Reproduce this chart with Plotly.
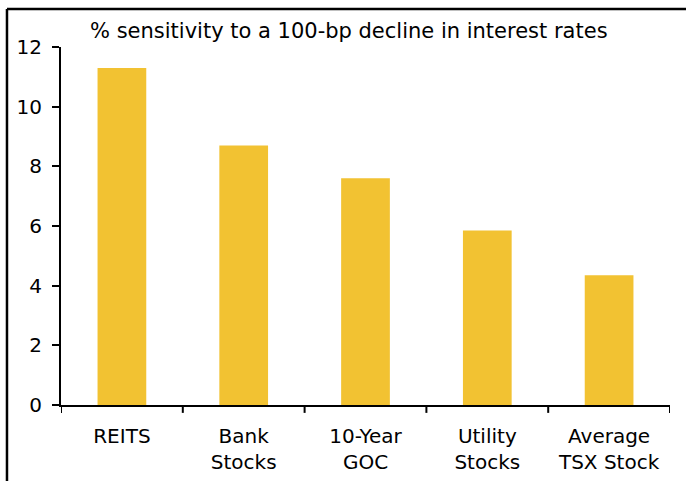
import plotly.graph_objects as go

categories = ["REITS", "Bank<br>Stocks", "10-Year<br>GOC", "Utility<br>Stocks", "Average<br>TSX Stock"]
sensitivity = [11.3, 8.7, 7.6, 5.85, 4.35]
y_ticks = [0, 2, 4, 6, 8, 10, 12]
title_text = "% sensitivity to a 100-bp decline in interest rates"

FONT = "DejaVu Sans, Verdana, sans-serif"
BAR_COLOR = "#F2C232"

fig = go.Figure()
fig.add_trace(go.Bar(
    x=list(range(len(categories))),
    y=sensitivity,
    width=0.4,
    marker=dict(color=BAR_COLOR, line=dict(width=0)),
))

fig.update_layout(
    width=686,
    height=481,
    margin=dict(l=61, r=16, t=47, b=76, autoexpand=False),
    paper_bgcolor="white",
    plot_bgcolor="white",
    showlegend=False,
    font=dict(family=FONT, size=20, color="#000000"),
    xaxis=dict(
        range=[-0.5, len(categories) - 0.5],
        tickmode="array",
        tickvals=list(range(len(categories))),
        ticktext=categories,
        ticks="",
        showline=True,
        linecolor="black",
        linewidth=2,
        showgrid=False,
        zeroline=False,
        fixedrange=True,
        automargin=False,
        ticklabelstandoff=12,
    ),
    yaxis=dict(
        range=[0, 12],
        tickmode="array",
        tickvals=y_ticks,
        ticks="outside",
        ticklen=7,
        tickwidth=2,
        tickcolor="black",
        showline=True,
        linecolor="black",
        linewidth=2,
        showgrid=False,
        zeroline=False,
        automargin=False,
        ticklabelstandoff=6,
    ),
)

# category boundary ticks along the x axis
for b in [i - 0.5 for i in range(len(categories) + 1)]:
    fig.add_shape(type="line", xref="x", yref="paper", x0=b, x1=b, y0=0, y1=-0.022,
                  line=dict(color="black", width=2))

# frame lines on the left and top edges
fig.add_shape(type="line", xref="paper", yref="paper", x0=-0.0887, x1=-0.0887, y0=-0.3, y1=1.106,
              line=dict(color="black", width=2.5))
fig.add_shape(type="line", xref="paper", yref="paper", x0=-0.0887, x1=1.2, y0=1.106, y1=1.106,
              line=dict(color="black", width=2.5))

fig.add_annotation(text=title_text, xref="paper", yref="paper",
                   x=(88 - 61) / 609, y=(405 - 31) / 358, xanchor="left", yanchor="middle",
                   showarrow=False, font=dict(family=FONT, size=21, color="#000000"))

fig.write_html("out.html")
